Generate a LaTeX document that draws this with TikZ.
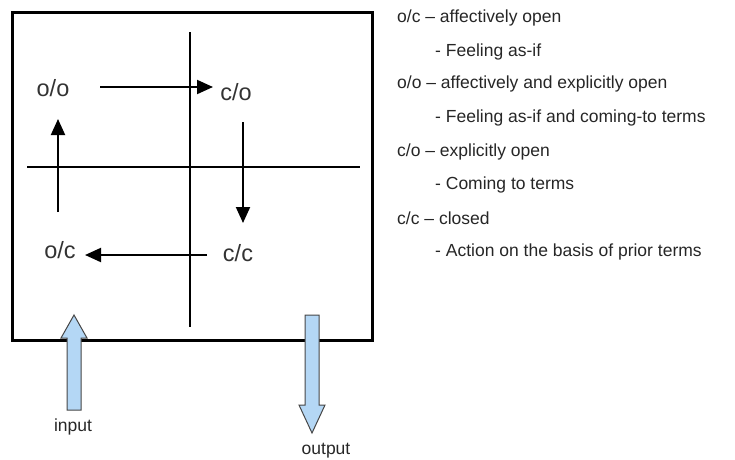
\documentclass[tikz,border=0pt]{standalone}
\usepackage{fontspec}
\setmainfont{Liberation Sans}
\usetikzlibrary{arrows.meta}
\definecolor{bluefill}{RGB}{180,215,245}
\definecolor{blueedge}{RGB}{70,70,70}
\begin{document}
\begin{tikzpicture}[x=1pt,y=-1pt,
  lbl/.style={font=\fontsize{23.5}{26}\selectfont, text=black!80, inner sep=0pt},
  txt/.style={font=\fontsize{17.5}{20}\selectfont, anchor=west, inner sep=0pt, text=black!85},
  arr/.style={line width=2pt, -{Triangle[length=16pt,width=14pt]}},
  bigarr/.style={fill=bluefill, draw=blueedge, line width=1pt, line join=miter}]
\useasboundingbox (0,0) rectangle (735,459);
% frame
\draw[line width=3pt] (12,12) rectangle (372,340);
% cross
\draw[line width=2pt] (190,32) -- (190,327);
\draw[line width=2pt] (27,167) -- (360,167);
% labels
\node[lbl] (oo) at (53,88) {o/o};
\node[lbl] (co) at (236,92) {c/o};
\node[lbl] (oc) at (60,250) {o/c};
\node[lbl] (cc) at (238,253) {c/c};
% cycle arrows
\coordinate (a1s) at (100,87);  \coordinate (a1e) at (213,87);
\coordinate (a2s) at (243,122); \coordinate (a2e) at (243,223);
\coordinate (a3s) at (207,255); \coordinate (a3e) at (85,255);
\coordinate (a4s) at (58,212);  \coordinate (a4e) at (58,119);
\draw[arr] (a1s) -- (a1e);
\draw[arr] (a2s) -- (a2e);
\draw[arr] (a3s) -- (a3e);
\draw[arr] (a4s) -- (a4e);
% input / output
\draw[bigarr] (74,315) -- (87,338) -- (81,338) -- (81,410) -- (67,410) -- (67,338) -- (61,338) -- cycle;
\draw[bigarr] (305,315) -- (319,315) -- (319,405) -- (325,405) -- (312,433) -- (299,405) -- (305,405) -- cycle;
\node[txt, anchor=center] (in) at (73,427) {input};
\node[txt, anchor=center] (out) at (326,451) {output};
% legend
\node[txt] (t1) at (397,18) {o/c – affectively open};
\node[txt] (t2) at (435,52) {- Feeling as-if};
\node[txt] (t3) at (397,84) {o/o – affectively and explicitly open};
\node[txt] (t4) at (435,118) {- Feeling as-if and coming-to terms};
\node[txt] (t5) at (397,152) {c/o – explicitly open};
\node[txt] (t6) at (435,185) {- Coming to terms};
\node[txt] (t7) at (397,218) {c/c – closed};
\node[txt] (t8) at (435,252) {- Action on the basis of prior terms};
\end{tikzpicture}
\end{document}
